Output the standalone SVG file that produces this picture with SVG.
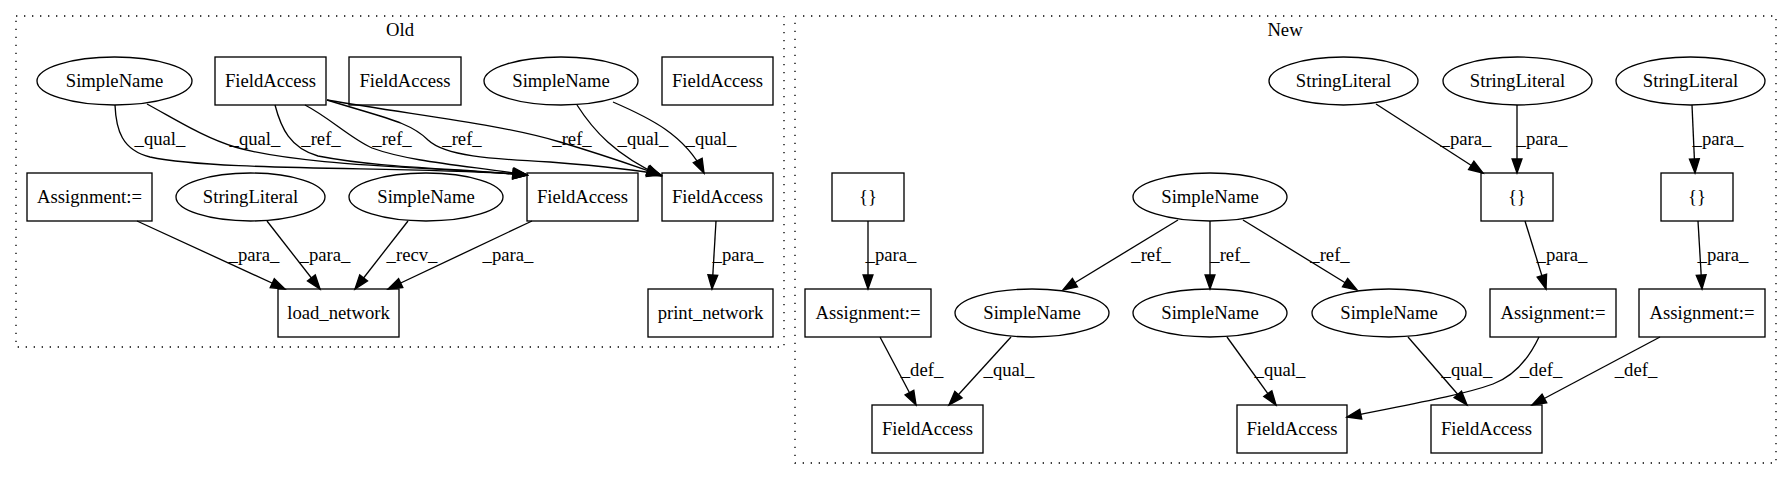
<svg xmlns="http://www.w3.org/2000/svg" width="1792" height="480" viewBox="0 0 1792 480">
<style>
text{font-family:"Liberation Serif","Times New Roman",serif;font-size:18.67px;fill:#000}
.n text,.lbl{text-anchor:middle}
.n rect,.n ellipse{fill:none;stroke:#000;stroke-width:1.33}
.cl{fill:none;stroke:#000;stroke-width:1.33;stroke-dasharray:1.33,6.67}
.e path{fill:none;stroke:#000;stroke-width:1.33;marker-end:url(#ah)}
</style>
<defs>
<marker id="ah" markerUnits="userSpaceOnUse" markerWidth="14" markerHeight="10" viewBox="0 0 13.33 9.33" refX="13.33" refY="4.67" orient="auto" overflow="visible">
<path d="M0,0 L13.33,4.67 L0,9.33 z" fill="#000" stroke="#000" stroke-width="1.33"/>
</marker>
</defs>
<rect width="1792" height="480" fill="#fff"/>
<g id="cluster_old"><rect class="cl" x="16" y="16" width="768" height="331"/><text x="400" y="36" text-anchor="middle">Old</text></g>
<g id="cluster_new"><rect class="cl" x="795" y="16" width="981" height="447"/><text x="1285" y="36" text-anchor="middle">New</text></g>

<g class="e" id="edges">
<path d="M115,105 C116,130 122,150 150,157 C220,172 420,166 527,175"/>
<path d="M147,104 C180,122 205,138 235,147 C300,166 430,167 527,175"/>
<path d="M275,105 C281,128 290,148 318,156 C380,168 450,168 527,175"/>
<path d="M305,105 C330,118 350,138 372,148 C410,162 470,166 527,175"/>
<path d="M327,100 C385,118 410,122 428,140 C445,156 490,159 550,162 C600,166 640,170 661,175"/>
<path d="M327,100 C420,116 500,124 560,142 C610,157 640,168 661,175"/>
<path d="M577,105 C593,130 615,155 661,176"/>
<path d="M613,102 C650,118 685,135 704,173"/>
<path d="M137,221 L285,289"/>
<path d="M267,221 L320,289"/>
<path d="M408,221 L355,289"/>
<path d="M532,221 L388,289"/>
<path d="M716,221 L712,289"/>
<path d="M868,221 L868,289"/>
<path d="M880,337 L916,405"/>
<path d="M1011,337 L949,405"/>
<path d="M1178,220 L1063,290"/>
<path d="M1210,221 L1210,289"/>
<path d="M1243,220 L1357,290"/>
<path d="M1227,337 L1276,405"/>
<path d="M1408,337 L1467,405"/>
<path d="M1539,337 C1530,356 1515,376 1493,384 C1460,396 1400,406 1347,417"/>
<path d="M1660,337 L1532,405"/>
<path d="M1376,104 L1483,173"/>
<path d="M1517,105 L1517,173"/>
<path d="M1692,105 L1695,173"/>
<path d="M1525,221 L1546,289"/>
<path d="M1698,221 L1702,289"/>
<g id="edge_labels">
<text class="lbl" x="160" y="145">_qual_</text>
<text class="lbl" x="255" y="145">_qual_</text>
<text class="lbl" x="321" y="145">_ref_</text>
<text class="lbl" x="392" y="145">_ref_</text>
<text class="lbl" x="462" y="145">_ref_</text>
<text class="lbl" x="572" y="145">_ref_</text>
<text class="lbl" x="643" y="145">_qual_</text>
<text class="lbl" x="711" y="145">_qual_</text>
<text class="lbl" x="254" y="261">_para_</text>
<text class="lbl" x="325" y="261">_para_</text>
<text class="lbl" x="412" y="261">_recv_</text>
<text class="lbl" x="508" y="261">_para_</text>
<text class="lbl" x="738" y="261">_para_</text>
<text class="lbl" x="891" y="261">_para_</text>
<text class="lbl" x="922" y="376">_def_</text>
<text class="lbl" x="1009" y="376">_qual_</text>
<text class="lbl" x="1151" y="261">_ref_</text>
<text class="lbl" x="1230" y="261">_ref_</text>
<text class="lbl" x="1330" y="261">_ref_</text>
<text class="lbl" x="1280" y="376">_qual_</text>
<text class="lbl" x="1467" y="376">_qual_</text>
<text class="lbl" x="1541" y="376">_def_</text>
<text class="lbl" x="1636" y="376">_def_</text>
<text class="lbl" x="1466" y="145">_para_</text>
<text class="lbl" x="1542" y="145">_para_</text>
<text class="lbl" x="1718" y="145">_para_</text>
<text class="lbl" x="1562" y="261">_para_</text>
<text class="lbl" x="1723" y="261">_para_</text>
</g>
</g>

<g class="n" id="old_sn1"><ellipse cx="114.5" cy="81" rx="77.5" ry="24"/><text x="114.5" y="87">SimpleName</text></g>
<g class="n" id="old_fa1"><rect x="215" y="57" width="111" height="48"/><text x="270.5" y="87">FieldAccess</text></g>
<g class="n" id="old_fa2"><rect x="349" y="57" width="112" height="48"/><text x="405" y="87">FieldAccess</text></g>
<g class="n" id="old_sn3"><ellipse cx="561" cy="81" rx="77" ry="24"/><text x="561" y="87">SimpleName</text></g>
<g class="n" id="old_fa3"><rect x="662" y="57" width="111" height="48"/><text x="717.5" y="87">FieldAccess</text></g>
<g class="n" id="old_assign"><rect x="27" y="173" width="125" height="48"/><text x="89.5" y="203">Assignment:=</text></g>
<g class="n" id="old_sl"><ellipse cx="250.5" cy="197" rx="74.5" ry="24"/><text x="250.5" y="203">StringLiteral</text></g>
<g class="n" id="old_sn2"><ellipse cx="426" cy="197" rx="77" ry="24"/><text x="426" y="203">SimpleName</text></g>
<g class="n" id="old_fa4"><rect x="527" y="173" width="111" height="48"/><text x="582.5" y="203">FieldAccess</text></g>
<g class="n" id="old_fa5"><rect x="662" y="173" width="111" height="48"/><text x="717.5" y="203">FieldAccess</text></g>
<g class="n" id="old_load"><rect x="278" y="289" width="121" height="48"/><text x="338.5" y="319">load_network</text></g>
<g class="n" id="old_print"><rect x="648" y="289" width="125" height="48"/><text x="710.5" y="319">print_network</text></g>

<g class="n" id="new_sl1"><ellipse cx="1343.5" cy="81" rx="74.5" ry="24"/><text x="1343.5" y="87">StringLiteral</text></g>
<g class="n" id="new_sl2"><ellipse cx="1517.5" cy="81" rx="74.5" ry="24"/><text x="1517.5" y="87">StringLiteral</text></g>
<g class="n" id="new_sl3"><ellipse cx="1690.5" cy="81" rx="74.5" ry="24"/><text x="1690.5" y="87">StringLiteral</text></g>
<g class="n" id="new_br1"><rect x="832" y="173" width="72" height="48"/><text x="868" y="203">{}</text></g>
<g class="n" id="new_sntop"><ellipse cx="1210" cy="197" rx="77" ry="24"/><text x="1210" y="203">SimpleName</text></g>
<g class="n" id="new_br2"><rect x="1481" y="173" width="72" height="48"/><text x="1517" y="203">{}</text></g>
<g class="n" id="new_br3"><rect x="1661" y="173" width="72" height="48"/><text x="1697" y="203">{}</text></g>
<g class="n" id="new_as1"><rect x="805" y="289" width="126" height="48"/><text x="868" y="319">Assignment:=</text></g>
<g class="n" id="new_snl"><ellipse cx="1032" cy="313" rx="77" ry="24"/><text x="1032" y="319">SimpleName</text></g>
<g class="n" id="new_snm"><ellipse cx="1210" cy="313" rx="77" ry="24"/><text x="1210" y="319">SimpleName</text></g>
<g class="n" id="new_snr"><ellipse cx="1389" cy="313" rx="77" ry="24"/><text x="1389" y="319">SimpleName</text></g>
<g class="n" id="new_as2"><rect x="1490" y="289" width="126" height="48"/><text x="1553" y="319">Assignment:=</text></g>
<g class="n" id="new_as3"><rect x="1639" y="289" width="126" height="48"/><text x="1702" y="319">Assignment:=</text></g>
<g class="n" id="new_fa1"><rect x="872" y="405" width="111" height="48"/><text x="927.5" y="435">FieldAccess</text></g>
<g class="n" id="new_fa2"><rect x="1237" y="405" width="110" height="48"/><text x="1292" y="435">FieldAccess</text></g>
<g class="n" id="new_fa3"><rect x="1431" y="405" width="111" height="48"/><text x="1486.5" y="435">FieldAccess</text></g>
</svg>
